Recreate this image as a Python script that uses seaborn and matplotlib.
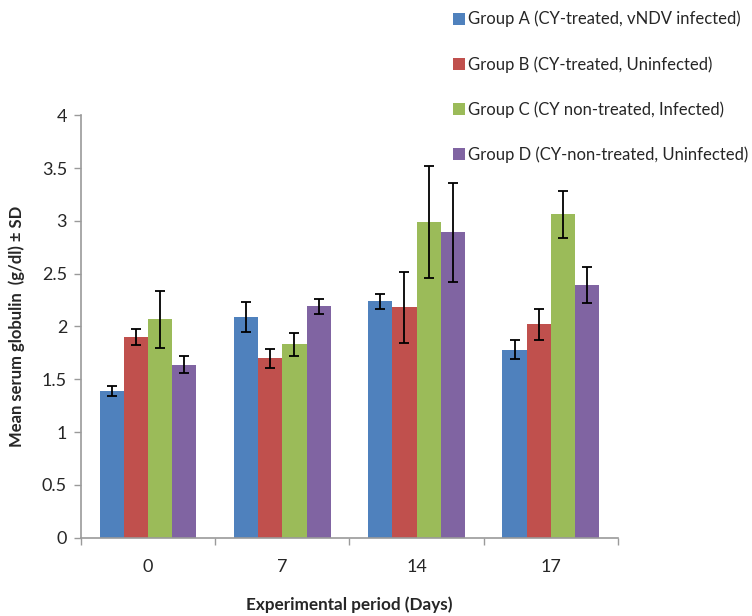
import matplotlib
matplotlib.use("Agg")
import matplotlib.pyplot as plt
import seaborn as sns
import pandas as pd
import numpy as np

days = ["0", "7", "14", "17"]
groups = [
    "Group A (CY-treated, vNDV infected)",
    "Group B (CY-treated, Uninfected)",
    "Group C (CY non-treated, Infected)",
    "Group D (CY-non-treated, Uninfected)",
]
group_a = [1.39, 2.09, 2.24, 1.78]
group_b = [1.90, 1.70, 2.18, 2.02]
group_c = [2.07, 1.83, 2.99, 3.06]
group_d = [1.64, 2.19, 2.89, 2.39]
sd_a = [0.05, 0.145, 0.07, 0.09]
sd_b = [0.075, 0.09, 0.34, 0.15]
sd_c = [0.27, 0.11, 0.53, 0.22]
sd_d = [0.08, 0.07, 0.47, 0.17]

colors = ["#4F81BD", "#C0504D", "#9BBB59", "#8064A2"]

means = [group_a, group_b, group_c, group_d]
sds = [sd_a, sd_b, sd_c, sd_d]
rows = []
for g, m in zip(groups, means):
    for d, v in zip(days, m):
        rows.append({"Day": d, "Group": g, "Value": v})
df = pd.DataFrame(rows)

sns.set_theme(style="white")
plt.rcParams["font.family"] = ["Lato", "DejaVu Sans"]

fig = plt.figure(figsize=(7.52, 6.16), dpi=100)
ax = fig.add_axes([0.1077, 0.127, 0.714, 0.686])

sns.barplot(data=df, x="Day", y="Value", hue="Group", order=days,
            hue_order=groups, palette=colors, saturation=1, width=0.72,
            linewidth=0, errorbar=None, ax=ax, legend=True)

for cont, sd in zip(ax.containers, sds):
    xs = [b.get_x() + b.get_width() / 2 for b in cont]
    ys = [b.get_height() for b in cont]
    ax.errorbar(xs, ys, yerr=sd, fmt="none", ecolor="black",
                elinewidth=1.3, capsize=3.5, capthick=1.3, zorder=5)

ax.set_xlim(-0.5, 3.5)
ax.set_ylim(0, 4)
ax.set_yticks(np.arange(0, 4.01, 0.5))
ax.set_yticklabels(["0", "0.5", "1", "1.5", "2", "2.5", "3", "3.5", "4"])
ax.set_xticks(range(4))
ax.set_xticklabels(days)
ax.set_xticks([-0.5, 0.5, 1.5, 2.5, 3.5], minor=True)
ax.tick_params(axis="x", which="major", length=0, pad=15, labelsize=13)
ax.tick_params(axis="x", which="minor", length=5, color="#9a9a9a", width=1,
               direction="out", bottom=True)
ax.tick_params(axis="y", length=5, color="#9a9a9a", width=1,
               direction="out", left=True, labelsize=13, pad=5)

for s in ["top", "right"]:
    ax.spines[s].set_visible(False)
for s in ["left", "bottom"]:
    ax.spines[s].set_color("#9a9a9a")
    ax.spines[s].set_linewidth(1.2)

ax.set_xlabel("Experimental period (Days)", fontsize=12.3, fontweight="bold",
              labelpad=16)
ax.set_ylabel("Mean serum globulin  (g/dl) \u00b1 SD", fontsize=12,
              fontweight="bold", labelpad=12)

handles, labels = ax.get_legend_handles_labels()
if ax.legend_:
    ax.legend_.remove()
fig.legend(handles, labels, loc="upper left", bbox_to_anchor=(0.588, 1.0),
           frameon=False, fontsize=12, labelspacing=1.72,
           handlelength=0.72, handleheight=0.72, handletextpad=0.2,
           borderaxespad=0.25)

fig.savefig("out.png", dpi=100)
